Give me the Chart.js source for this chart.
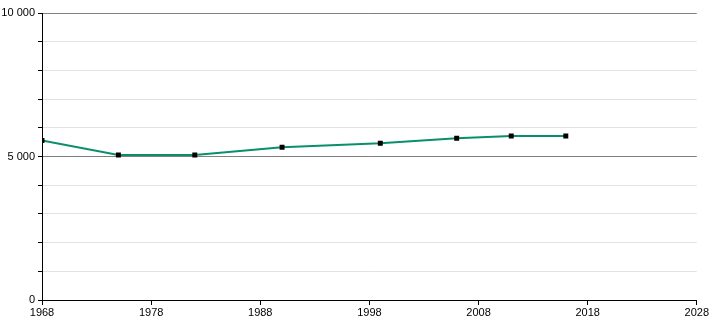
<!DOCTYPE html>
<html>
<head>
<meta charset="utf-8">
<script src="https://cdn.jsdelivr.net/npm/chart.js@4"></script>
<style>
  html, body { margin: 0; padding: 0; background: #fff; }
  #wrap { width: 710px; height: 320px; }
</style>
</head>
<body>
<div id="wrap"><canvas id="chart" width="710" height="320"></canvas></div>
<script>
// Années et valeurs
const annees = [1968, 1975, 1982, 1990, 1999, 2006, 2011, 2016];
const valeurs = [5560, 5050, 5050, 5320, 5460, 5635, 5715, 5715];
const ticksX = [1968, 1978, 1988, 1998, 2008, 2018, 2028];
const ticksYMajeurs = [0, 5000, 10000];

function formatNombre(v) {
    return String(v).replace(/\B(?=(\d{3})+(?!\d))/g, ' ');
}

const ctx = document.getElementById('chart').getContext('2d');
const chart = new Chart(ctx, {
    type: 'line',
    data: {
        datasets: [{
            data: annees.map((a, i) => ({ x: a, y: valeurs[i] })),
            borderColor: '#0b8f6a',
            borderWidth: 2,
            pointStyle: 'rect',
            pointRadius: 3.5,
            pointBackgroundColor: '#000',
            pointBorderWidth: 0,
            tension: 0,
            fill: false,
        }],
    },
    options: {
        responsive: false,
        animation: false,
        layout: { padding: { top: 13, right: 12, left: 0, bottom: 0 } },
        plugins: { legend: { display: false }, tooltip: { enabled: false } },
        scales: {
            x: {
                type: 'linear',
                min: 1968,
                max: 2028,
                afterBuildTicks: s => { s.ticks = ticksX.map(v => ({ value: v })); },
                afterFit: s => { s.height = 20; },
                ticks: {
                    callback: v => String(v),
                    color: '#000',
                    font: { family: 'Liberation Sans', size: 11 },
                    padding: 1,
                    maxRotation: 0,
                },
                grid: { drawOnChartArea: false, drawTicks: true, tickLength: 5, tickColor: '#000' },
                border: { color: '#000', width: 1 },
            },
            y: {
                min: 0,
                max: 10000,
                ticks: {
                    stepSize: 1000,
                    callback: v => ticksYMajeurs.includes(v) ? formatNombre(v) : '',
                    color: '#000',
                    font: { family: 'Liberation Sans', size: 11 },
                    padding: 3,
                },
                afterFit: s => { s.width = 42; },
                grid: {
                    color: c => (c.tick && c.tick.value % 5000 === 0) ? '#808080' : '#e2e2e2',
                    lineWidth: 1,
                    tickLength: 4,
                    tickColor: '#000',
                },
                border: { color: '#000', width: 1 },
            },
        },
    },
});
</script>
</body>
</html>
